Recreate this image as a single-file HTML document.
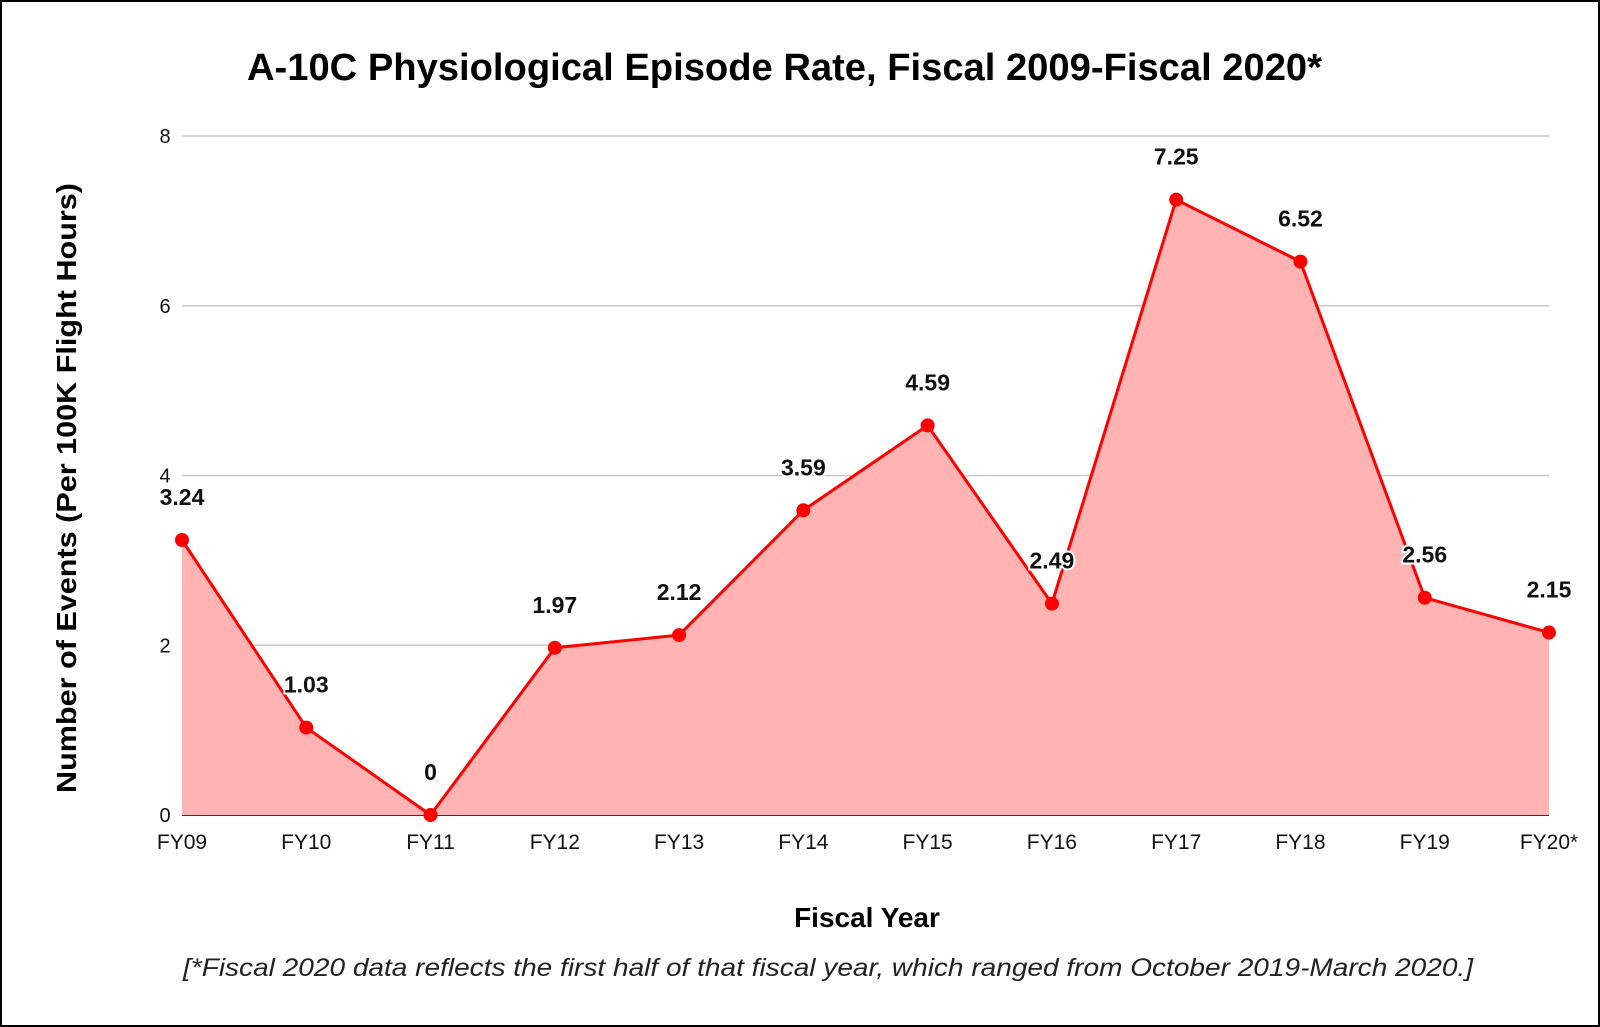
<!DOCTYPE html>
<html><head><meta charset="utf-8"><style>
html,body{margin:0;padding:0;background:#fff;}
svg{display:block;font-family:"Liberation Sans",Arial,sans-serif;}
</style></head><body>
<svg id="chart" width="1600" height="1027" viewBox="0 0 1600 1027">
<rect x="1" y="1" width="1598" height="1025" fill="#fff" stroke="#000" stroke-width="2"/>
<text x="247" y="80" font-size="38" font-weight="bold" textLength="1075" lengthAdjust="spacingAndGlyphs">A-10C Physiological Episode Rate, Fiscal 2009-Fiscal 2020*</text>
<text transform="translate(76,488) rotate(-90)" text-anchor="middle" font-size="28" font-weight="bold" textLength="610" lengthAdjust="spacingAndGlyphs">Number of  Events (Per 100K Flight Hours)</text>
<text x="867" y="927" text-anchor="middle" font-size="28" font-weight="bold">Fiscal Year</text>
<text x="828" y="976" text-anchor="middle" font-size="25" font-style="italic" textLength="1290" lengthAdjust="spacingAndGlyphs" fill="#222">[*Fiscal 2020 data reflects the first half of that fiscal year, which ranged from October 2019-March 2020.]</text>
<g id="grid"></g><g id="area"></g><g id="marks"></g><g id="labels"></g>
</svg>
<script>
const categories = ["FY09","FY10","FY11","FY12","FY13","FY14","FY15","FY16","FY17","FY18","FY19","FY20*"];
const values = [3.24,1.03,0,1.97,2.12,3.59,4.59,2.49,7.25,6.52,2.56,2.15];
const valueLabels = ["3.24","1.03","0","1.97","2.12","3.59","4.59","2.49","7.25","6.52","2.56","2.15"];
const yTicks = [0,2,4,6,8];

const NS="http://www.w3.org/2000/svg";
const L=182,R=1549,T=136,B=815,YMAX=8;
const x=i=>L+(R-L)*i/(categories.length-1);
const y=v=>B-(B-T)*v/YMAX;
function mk(tag,attrs,parent){const e=document.createElementNS(NS,tag);for(const k in attrs)e.setAttribute(k,attrs[k]);document.getElementById(parent).appendChild(e);return e;}

yTicks.forEach(t=>{
  const g=mk('line',{x1:L,x2:R,y1:y(t),y2:y(t),stroke:t===0?'#333':'#c8c8c8','stroke-width':t===0?2:1.5},'grid');
  
  
  const tl=mk('text',{x:165,y:y(t)+7,'text-anchor':'middle','font-size':20,fill:'#111'},'grid');
  tl.textContent=t;
  
  
});
categories.forEach((c,i)=>{
  const t=mk('text',{x:x(i),y:849,'text-anchor':'middle','font-size':21,fill:'#111'},'grid');
  t.textContent=c;
  
  
});
let d='M'+x(0)+','+y(0);
values.forEach((v,i)=>{d+=' L'+x(i)+','+y(v);});
d+=' L'+x(values.length-1)+','+y(0)+' Z';
const area=mk('path',{d:d,fill:'#ffb3b3'},'area');


const pts=values.map((v,i)=>x(i)+','+y(v)).join(' ');
const line=mk('polyline',{points:pts,fill:'none',stroke:'#f00','stroke-width':3,'stroke-linejoin':'round'},'marks');


values.forEach((v,i)=>{
  const c=mk('circle',{cx:x(i),cy:y(v),r:7,fill:'#f00'},'marks');
  
  
  const lb=mk('text',{x:x(i),y:y(v)-35,'text-anchor':'middle','font-size':23,'font-weight':'bold',fill:'#111',stroke:'#fff','stroke-width':4,'paint-order':'stroke'},'labels');
  lb.textContent=valueLabels[i];
  
  
});
</script>
</body></html>
